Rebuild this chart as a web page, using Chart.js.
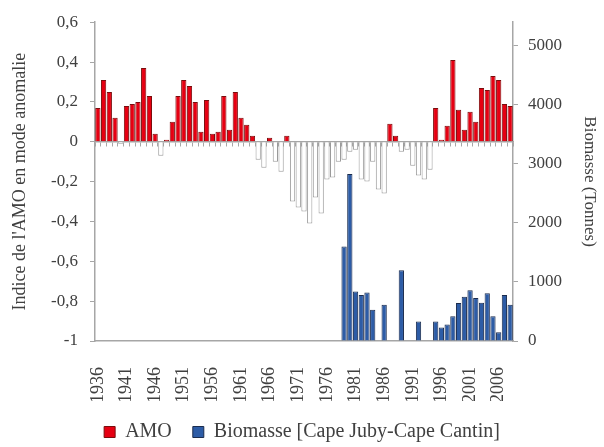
<!DOCTYPE html>
<html>
<head>
<meta charset="utf-8">
<script src="https://cdn.jsdelivr.net/npm/chart.js@4.4.0/dist/chart.umd.min.js"></script>
<style>
  html, body { margin: 0; padding: 0; background: #ffffff; }
  canvas { display: block; }
</style>
</head>
<body>
<canvas id="chart" width="604" height="447"></canvas>
<script>
// Years of the series (one bar per year)
const years = [
  1936, 1937, 1938, 1939, 1940, 1941, 1942, 1943, 1944, 1945,
  1946, 1947, 1948, 1949, 1950, 1951, 1952, 1953, 1954, 1955,
  1956, 1957, 1958, 1959, 1960, 1961, 1962, 1963, 1964, 1965,
  1966, 1967, 1968, 1969, 1970, 1971, 1972, 1973, 1974, 1975,
  1976, 1977, 1978, 1979, 1980, 1981, 1982, 1983, 1984, 1985,
  1986, 1987, 1988, 1989, 1990, 1991, 1992, 1993, 1994, 1995,
  1996, 1997, 1998, 1999, 2000, 2001, 2002, 2003, 2004, 2005,
  2006, 2007, 2008
];

// AMO index (left axis)
const amo = [
  0.17, 0.31, 0.25, 0.12, -0.01, 0.18, 0.19, 0.20, 0.37, 0.23,
  0.04, -0.07, 0.01, 0.10, 0.23, 0.31, 0.28, 0.20, 0.05, 0.21,
  0.04, 0.05, 0.23, 0.06, 0.25, 0.12, 0.085, 0.03, -0.09, -0.13,
  0.02, -0.10, -0.15, 0.03, -0.30, -0.33, -0.35, -0.41, -0.28, -0.36,
  -0.19, -0.18, -0.10, -0.09, -0.05, -0.04, -0.19, -0.20, -0.10, -0.24,
  -0.26, 0.09, 0.03, -0.05, -0.04, -0.12, -0.17, -0.19, -0.14, 0.17,
  0.01, 0.08, 0.41, 0.16, 0.06, 0.15, 0.10, 0.27, 0.26, 0.33,
  0.31, 0.19, 0.18
];

// Biomass in tonnes, Cape Juby - Cape Cantin (right axis)
const biomasse = [
  0, 0, 0, 0, 0, 0, 0, 0, 0, 0,
  0, 0, 0, 0, 0, 0, 0, 0, 0, 0,
  0, 0, 0, 0, 0, 0, 0, 0, 0, 0,
  0, 0, 0, 0, 0, 0, 0, 0, 0, 0,
  0, 0, 0, 1600, 2830, 840, 780, 820, 530, 0,
  615, 0, 0, 1200, 0, 0, 330, 0, 0, 330,
  230, 280, 420, 645, 750, 860, 730, 650, 810, 420,
  150, 780, 615
];

// Axis ranges and tick values
const amoRange = [-1, 0.6];
const amoStep = 0.2;
const biomasseRange = [0, 5400];
const biomasseTicks = [0, 1000, 2000, 3000, 4000, 5000];
const firstLabelYear = 1936;
const labelEvery = 5;

const serif = "'Liberation Serif', 'DejaVu Serif', serif";
const textColor = '#404040';
const axisGray = '#a6a6a6';

function frDecimal(v) {
  const r = Math.round(v * 10) / 10;
  if (r === 0) return '0';
  return String(r).replace('.', ',');
}

const ctx = document.getElementById('chart').getContext('2d');
new Chart(ctx, {
  type: 'bar',
  data: {
    labels: years,
    datasets: [
      {
        label: 'AMO',
        data: amo,
        xAxisID: 'x',
        yAxisID: 'y',
        grouped: false,
        categoryPercentage: 1,
        barPercentage: 0.92,
        backgroundColor: c => (c.raw < 0 ? '#ffffff' : '#e60012'),
        borderColor: c => (c.raw < 0 ? '#9a9a9a' : '#7a0d0d'),
        borderWidth: 1
      },
      {
        label: 'Biomasse [Cape Juby-Cape Cantin]',
        data: biomasse,
        xAxisID: 'x',
        yAxisID: 'y1',
        grouped: false,
        categoryPercentage: 1,
        barPercentage: 0.92,
        backgroundColor: '#2d5ca6',
        borderColor: '#1b2c4e',
        borderWidth: 1
      }
    ]
  },
  options: {
    responsive: false,
    animation: false,
    layout: { padding: { top: 16, bottom: -5, left: 0, right: 0 } },
    plugins: {
      tooltip: { enabled: false },
      legend: {
        position: 'bottom',
        labels: {
          boxWidth: 11,
          boxHeight: 11,
          padding: 21,
          color: textColor,
          font: { family: serif, size: 20 }
        }
      }
    },
    scales: {
      // horizontal axis crossing at zero, with category tick marks
      x: {
        type: 'category',
        position: { y: 0 },
        offset: true,
        grid: { display: true, drawOnChartArea: false, drawTicks: true, tickLength: 4, color: axisGray, offset: true },
        border: { display: true, color: axisGray, width: 1.5 },
        ticks: { display: false }
      },
      // year labels along the bottom of the plot
      x2: {
        type: 'category',
        position: 'bottom',
        offset: true,
        grid: { display: false },
        border: { display: true, color: axisGray, width: 1.5 },
        ticks: {
          autoSkip: false,
          minRotation: 90,
          maxRotation: 90,
          padding: 18,
          color: textColor,
          font: { family: serif, size: 18 },
          callback: function (v) {
            const yr = Number(this.getLabelForValue(v));
            return (yr - firstLabelYear) % labelEvery === 0 ? String(yr) : '';
          }
        },
        afterFit: s => { s.height = 60; }
      },
      y: {
        position: 'left',
        min: amoRange[0],
        max: amoRange[1],
        grid: { drawOnChartArea: false, tickLength: 5, color: axisGray },
        border: { display: true, color: axisGray, width: 1.5 },
        ticks: {
          stepSize: amoStep,
          padding: 12,
          color: textColor,
          font: { family: serif, size: 17 },
          callback: v => frDecimal(v)
        },
        title: {
          display: true,
          text: "Indice de l'AMO en mode anomalie",
          color: textColor,
          font: { family: serif, size: 18 },
          padding: { top: 9, bottom: 0 }
        },
        afterFit: s => { s.width = 95; }
      },
      y1: {
        position: 'right',
        min: biomasseRange[0],
        max: biomasseRange[1],
        grid: { drawOnChartArea: false, tickLength: 5, color: axisGray },
        border: { display: true, color: axisGray, width: 1.5 },
        afterBuildTicks: s => { s.ticks = biomasseTicks.map(v => ({ value: v })); },
        ticks: {
          padding: 10,
          color: textColor,
          font: { family: serif, size: 17 },
          callback: v => String(v)
        },
        title: {
          display: true,
          text: 'Biomasse (Tonnes)',
          color: textColor,
          font: { family: serif, size: 17 },
          padding: { top: 4, bottom: 0 }
        },
        afterFit: s => { s.width = 91; }
      }
    }
  }
});
</script>
</body>
</html>
